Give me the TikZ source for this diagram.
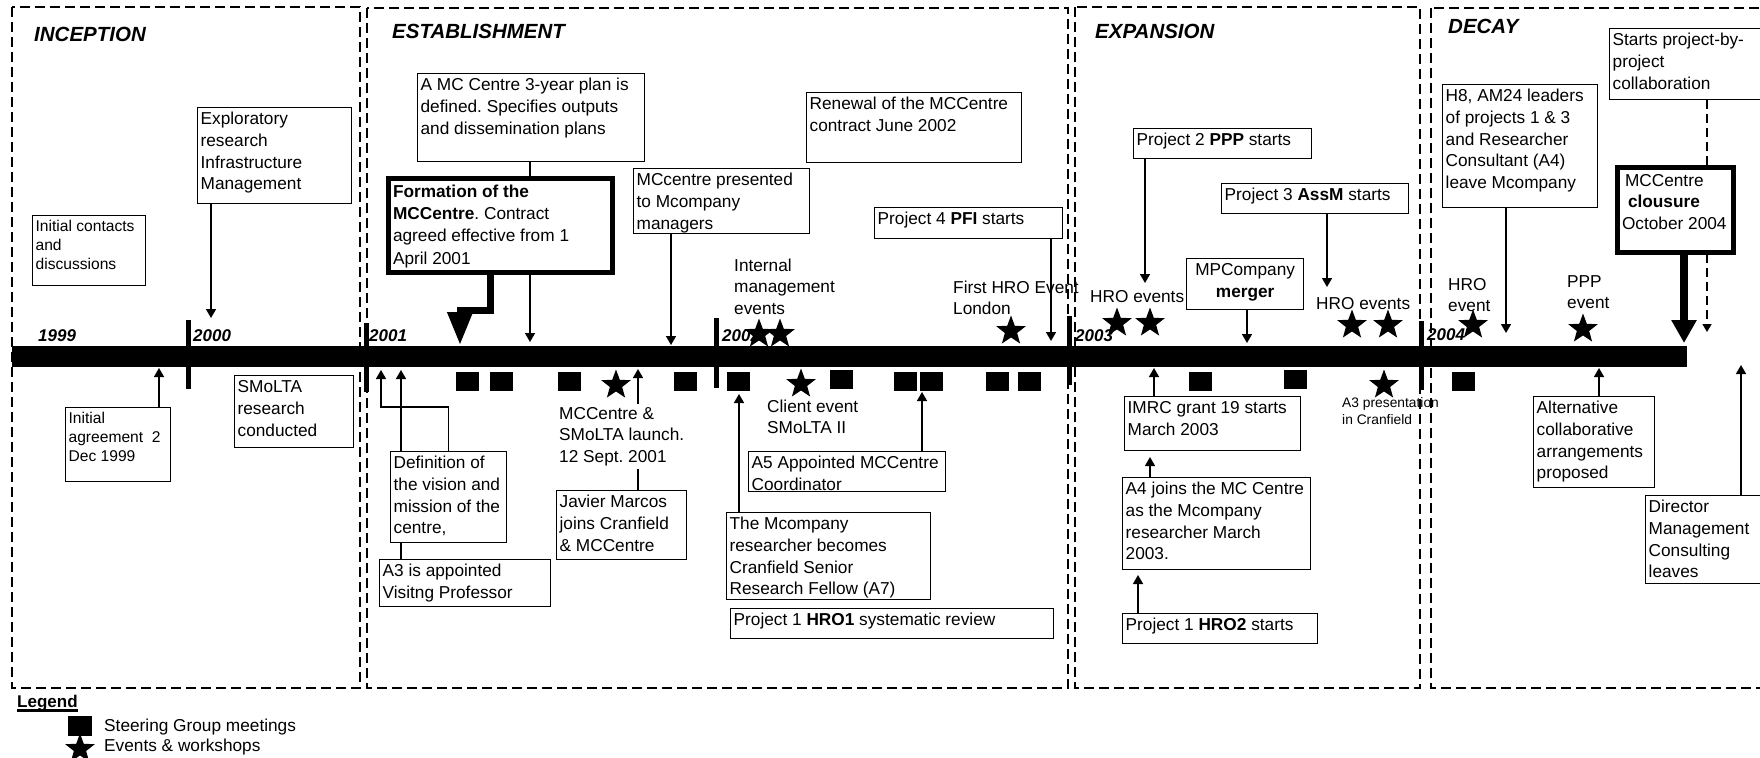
\documentclass[tikz,border=0pt]{standalone}
\usepackage{fontspec}
\setmainfont{Liberation Sans}
\usetikzlibrary{arrows.meta,shapes.geometric}
\frenchspacing

% text sizes (1pt = one unit of the drawing)
\newcommand\fA{\fontsize{17.25pt}{21.7pt}\selectfont}
\newcommand\fB{\fontsize{15.6pt}{19.3pt}\selectfont}
\newcommand\fC{\fontsize{13.8pt}{17pt}\selectfont}
\newcommand\fYear{\fontsize{17pt}{20pt}\selectfont\bfseries\itshape}
\newcommand\fPhase{\fontsize{20.5pt}{24pt}\selectfont\bfseries\itshape}

% box body: outer width, outer height, lines (top aligned)
\newcommand\boxbody[3]{\parbox[t][\dimexpr#2pt-4pt\relax][t]{\dimexpr#1pt-6pt\relax}{\begin{tabular}[t]{@{}l@{}}#3\end{tabular}}}
\newcommand\txtlines[1]{\begin{tabular}[t]{@{}l@{}}#1\end{tabular}}

\begin{document}
\begin{tikzpicture}[x=1pt,y=-1pt,
  tbox/.style={draw, line width=1.3pt, fill=white, inner xsep=3pt, inner ysep=2pt, anchor=north west, font=\fA},
  free/.style={inner sep=0pt, anchor=base west, font=\fA},
  phase/.style={draw, line width=1.2pt, dash pattern=on 10pt off 5pt},
  phasetitle/.style={inner sep=0pt, anchor=base west, font=\fPhase},
  yearlbl/.style={inner sep=0pt, anchor=base west, font=\fYear},
  arr/.style={line width=1.5pt, -{Triangle[width=10pt,length=9pt]}},
  plainln/.style={line width=1.5pt},
  dasharr/.style={line width=1.5pt, dash pattern=on 9pt off 5pt, -{Triangle[width=9pt,length=8pt]}},
  fatarr/.style={line width=7pt, -{Triangle[width=24pt,length=33pt]}},
  fatarrb/.style={line width=7.5pt, -{Triangle[width=24pt,length=23pt]}},
  yeartick/.style={line width=5pt},
  sq/.style={fill=black, inner sep=0pt, minimum width=23pt, minimum height=19pt},
  evt/.style={star, star points=5, star point ratio=2.4, fill=black, inner sep=0pt, minimum size=31pt},
]
\useasboundingbox (0,0) rectangle (1760,757);
\clip (0,0) rectangle (1760,757);

% ---------- phases ----------
\draw[phase] (12,7) rectangle (360,688);
\draw[phase] (367,8) rectangle (1068,688);
\draw[phase] (1075,7) rectangle (1420,688);
\draw[phase] (1431,8) rectangle (1800,688);
\node[phasetitle] (pInc) at (34,42) {INCEPTION};
\node[phasetitle] (pEst) at (392,39) {ESTABLISHMENT};
\node[phasetitle] (pExp) at (1095,39) {EXPANSION};
\node[phasetitle] (pDec) at (1448,34) {DECAY};

% ---------- time line ----------
\node[fill=black, inner sep=0pt, minimum width=1675pt, minimum height=21pt, anchor=north west] (bar) at (12,346) {};
\node[yearlbl] (y1999) at (38,341) {1999};
\node[yearlbl] (y2000) at (193,341) {2000};
\node[yearlbl] (y2001) at (369,341) {2001};
\node[yearlbl] (y2002) at (722,341) {2002};
\node[yearlbl] (y2003) at (1075,341) {2003};
\node[yearlbl] (y2004) at (1427,340) {2004};

% ---------- inception ----------
\node[tbox] (expl) at (197,107) {\boxbody{154}{96}{Exploratory\\research\\Infrastructure\\Management}};
\node[tbox, font=\fB] (initc) at (32,215) {\boxbody{113}{70}{Initial contacts\\and\\discussions}};
\node[tbox, font=\fB] (inita) at (65,407) {\boxbody{105}{74}{Initial\\agreement\ \ 2\\Dec 1999}};
\node[tbox] (smolta) at (234,375) {\boxbody{119}{72}{SMoLTA\\research\\conducted}};

\coordinate (e1) at (211,318);
\draw[arr] (expl.south -| e1) -- (e1);
\coordinate (e2) at (159,368);
\draw[arr] (inita.north -| e2) -- (e2);

% ---------- establishment ----------
\node[tbox] (plan) at (417,73) {\boxbody{227}{88}{A MC Centre 3-year plan is\\defined. Specifies outputs\\and dissemination plans}};
\coordinate (e3) at (530,342);
\draw[arr] (plan.south -| e3) -- (e3);
\node[draw, line width=5pt, fill=white, inner xsep=5pt, inner ysep=4pt, anchor=north west,
      font=\fontsize{17.25pt}{22.2pt}\selectfont] (form) at (385.5,175.5)
  {\parbox[t][86pt][t]{214pt}{\begin{tabular}[t]{@{}l@{}}\textbf{Formation of the}\\\textbf{MCCentre}. Contract\\agreed effective from 1\\April 2001\end{tabular}}};
\coordinate (e4) at (460,345);
\draw[fatarr] ([xshift=-9.5pt]form.south) -- ++(0,35.5) -| (e4);

\node[tbox] (pres) at (633,168) {\boxbody{176}{65}{MCcentre presented\\to Mcompany\\managers}};
\coordinate (e5) at (671,345);
\draw[arr] (pres.south -| e5) -- (e5);

\node[tbox] (renew) at (806,92) {\boxbody{215}{70}{Renewal of the MCCentre\\contract June 2002}};

\node[tbox] (pfi) at (874,207) {\boxbody{188}{31}{Project 4 \textbf{PFI} starts}};
\coordinate (e6) at (1051,341);
\draw[arr] (pfi.south -| e6) -- (e6);

\node[free] (internal) at (734,271) {\txtlines{Internal\\management\\events}};
\node[free] (firsthro) at (953,293) {\txtlines{First HRO Event\\London}};

\node[free] (launch) at (559,419) {\txtlines{MCCentre \&\\SMoLTA launch.\\12 Sept. 2001}};
\node[tbox] (javier) at (556,490) {\boxbody{130}{69}{Javier Marcos\\joins Cranfield\\\& MCCentre}};
\coordinate (e7) at (638,369);
\draw[arr] (launch.north -| e7) -- (e7);
\draw[plainln] (javier.north -| e7) -- (launch.south -| e7);

\node[tbox] (defn) at (390,451) {\boxbody{116}{91}{Definition of\\the vision and\\mission of the\\centre,}};
\node[tbox] (a3) at (379,559) {\boxbody{171}{47}{A3 is appointed\\Visitng Professor}};
\coordinate (e8) at (401,370);
\draw[plainln] (a3.north -| e8) -- (defn.south -| e8);
\draw[arr] (defn.north -| e8) -- (e8);
\coordinate (e9) at (381,370);
\draw[arr] (defn.north) -- ++(0,-44) -| (e9);

\node[tbox] (mcres) at (726,512) {\boxbody{204}{87}{The Mcompany\\researcher becomes\\Cranfield Senior\\Research Fellow (A7)}};
\coordinate (e10) at (739,394);
\draw[arr] (mcres.north -| e10) -- (e10);

\node[tbox] (hro1) at (730,608) {\boxbody{323}{30}{Project 1 \textbf{HRO1} systematic review}};

\node[free] (client) at (767,412) {\txtlines{Client event\\SMoLTA II}};
\node[tbox] (a5) at (748,451) {\boxbody{197}{40}{A5 Appointed MCCentre\\Coordinator}};
\coordinate (e11) at (922,392);
\draw[arr] (a5.north -| e11) -- (e11);

% ---------- expansion ----------
\node[tbox] (ppp) at (1133,128) {\boxbody{178}{30}{Project 2 \textbf{PPP} starts}};
\coordinate (e12) at (1145,283);
\draw[arr] (ppp.south -| e12) -- (e12);

\node[tbox] (assm) at (1221,183) {\boxbody{187}{30}{Project 3 \textbf{AssM} starts}};
\coordinate (e14) at (1327,287);
\draw[arr] (assm.south -| e14) -- (e14);

\node[tbox] (merger) at (1186,258) {\parbox[t][47pt][t]{111pt}{\centering\begin{tabular}[t]{@{}c@{}}MPCompany\\\textbf{merger}\end{tabular}}};
\coordinate (e13) at (1247,343);
\draw[arr] (merger.south -| e13) -- (e13);

\node[free] (hroA) at (1090,302) {HRO events};
\node[free] (hroB) at (1316,309) {HRO events};

\node[tbox] (imrc) at (1124,396) {\boxbody{176}{54}{IMRC grant 19 starts\\March 2003}};
\coordinate (e15) at (1154,368);
\draw[arr] (imrc.north -| e15) -- (e15);

\node[tbox] (a4) at (1122,477) {\boxbody{188}{92}{A4 joins the MC Centre\\as the Mcompany\\researcher March\\2003.}};
\coordinate (e16) at (1150,457);
\draw[arr] (a4.north -| e16) -- (e16);

\node[tbox] (hro2) at (1122,613) {\boxbody{195}{30}{Project 1 \textbf{HRO2} starts}};
\coordinate (e17) at (1138,575);
\draw[arr] (hro2.north -| e17) -- (e17);

\node[free, font=\fC] (a3pres) at (1342,407) {\txtlines{A3 presentation\\in Cranfield}};

% ---------- decay ----------
\node[tbox] (h8) at (1442,84) {\boxbody{155}{123}{H8, AM24 leaders\\of projects 1 \& 3\\and Researcher\\Consultant (A4)\\leave Mcompany}};
\coordinate (e18) at (1506,333);
\draw[arr] (h8.south -| e18) -- (e18);

\node[tbox] (starts) at (1609,28) {\boxbody{200}{71}{Starts project-by-\\project\\collaboration}};
\coordinate (e19) at (1707,332);
\draw[dasharr] (starts.south -| e19) -- (e19);

\node[draw, line width=5pt, fill=white, inner xsep=5pt, inner ysep=4pt, anchor=north west, font=\fA] (close) at (1614.5,164.5)
  {\parbox[t][77pt][t]{106pt}{\begin{tabular}[t]{@{}l@{}}\hspace{3pt}MCCentre\\\hspace{6pt}\textbf{clousure}\\October 2004\end{tabular}}};
\coordinate (e20) at (1684,343);
\draw[fatarrb] (close.south -| e20) -- (e20);

\node[free] (hroC) at (1448,290) {\txtlines{HRO\\event}};
\node[free] (pppE) at (1567,287) {\txtlines{PPP\\event}};

\node[tbox] (alt) at (1533,396) {\boxbody{121}{91}{Alternative\\collaborative\\arrangements\\proposed}};
\coordinate (e21) at (1599,368);
\draw[arr] (alt.north -| e21) -- (e21);

\node[tbox] (dir) at (1645,495) {\boxbody{200}{88}{Director\\Management\\Consulting\\leaves}};
\coordinate (e22) at (1741,365);
\draw[arr] (dir.north -| e22) -- (e22);

% ---------- year ticks ----------
\draw[yeartick] (188,320) -- (188,389);
\draw[yeartick] (366,323) -- (366,392);
\draw[yeartick] (716,318) -- (716,388);
\draw[yeartick] (1069,316) -- (1069,385);
\draw[yeartick] (1421,321) -- (1421,390);

% ---------- steering group meetings ----------
\node[sq] (q1) at (467.5,381) {};
\node[sq] (q2) at (501.5,381) {};
\node[sq] (q3) at (569.5,381) {};
\node[sq] (q4) at (685,381) {};
\node[sq] (q5) at (738.5,381) {};
\node[sq] (q6) at (841.5,379) {};
\node[sq] (q7) at (905,381) {};
\node[sq] (q8) at (931,381) {};
\node[sq] (q9) at (997.5,381) {};
\node[sq] (q10) at (1029,381) {};
\node[sq] (q11) at (1200,381) {};
\node[sq] (q12) at (1295,379) {};
\node[sq] (q13) at (1463.5,381) {};

% ---------- events & workshops ----------
\node[evt] (s1) at (759,334) {};
\node[evt] (s2) at (780,334) {};
\node[evt] (s3) at (1011,331) {};
\node[evt] (s4) at (616,385) {};
\node[evt] (s5) at (801,384) {};
\node[evt] (s6) at (1117,323) {};
\node[evt] (s7) at (1150,323) {};
\node[evt] (s8) at (1352,325) {};
\node[evt] (s9) at (1388,325) {};
\node[evt] (s10) at (1384,385) {};
\node[evt] (s11) at (1473,325) {};
\node[evt] (s12) at (1583,329) {};

% ---------- legend ----------
\node[free, font=\fontsize{17pt}{20pt}\selectfont\bfseries] (leg) at (17,707) {Legend};
\draw[line width=2.2pt] ([yshift=-3.5pt]leg.base west) -- ([yshift=-3.5pt]leg.base east);
\node[sq, minimum width=24pt, minimum height=20pt, anchor=north west] (legsq) at (68,716) {};
\node[evt] (legst) at (80,749) {};
\node[free] (legsqt) at (104,731) {Steering Group meetings};
\node[free] (legstt) at (104,751) {Events \& workshops};
\end{tikzpicture}
\end{document}
